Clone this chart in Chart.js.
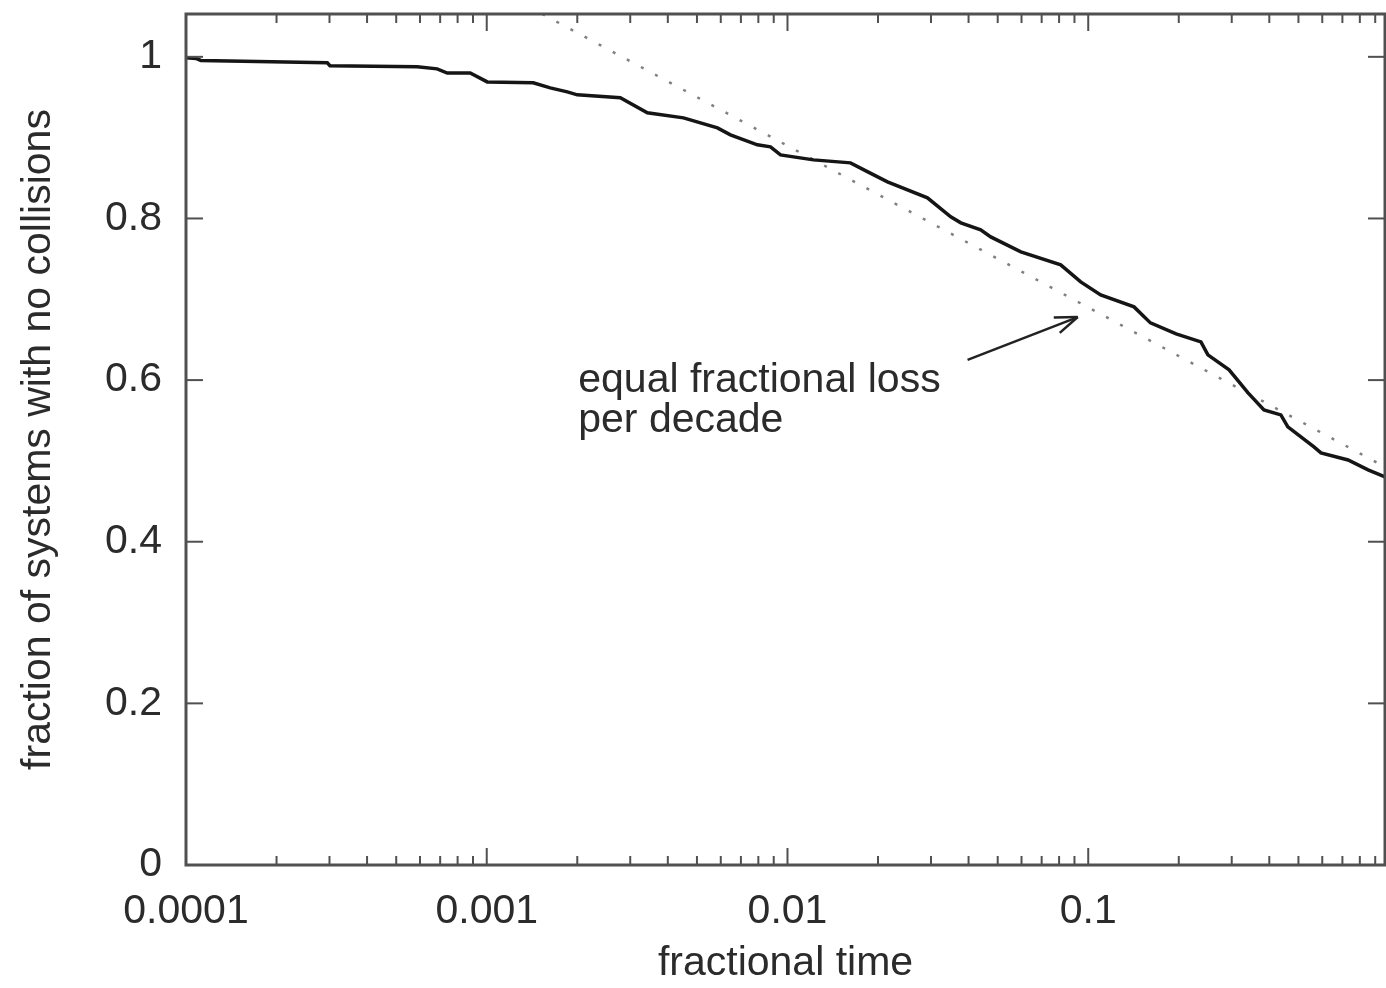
<!DOCTYPE html>
<html>
<head>
<meta charset="utf-8">
<script src="https://cdn.jsdelivr.net/npm/chart.js@4/dist/chart.umd.min.js"></script>
<style>
  html, body { margin: 0; padding: 0; background: #fff; }
  #wrap { width: 1386px; height: 988px; }
</style>
</head>
<body>
<div id="wrap"><canvas id="myChart" width="1386" height="988"></canvas></div>
<script>
// survival curve
const timeFraction = [1.0e-4, 1.08e-4, 1.12e-4, 2.95e-4, 3.01e-4, 5.87e-4, 6.84e-4, 7.39e-4, 8.81e-4, 1.004e-3,
  1.428e-3, 1.626e-3, 1.853e-3, 2.0e-3, 2.78e-3, 3.42e-3, 4.51e-3, 5.85e-3, 6.46e-3, 7.94e-3,
  8.78e-3, 9.48e-3, 0.0122, 0.0162, 0.0185, 0.0215, 0.0292, 0.0349, 0.0377, 0.0439,
  0.0474, 0.0597, 0.0810, 0.0944, 0.110, 0.142, 0.161, 0.196, 0.237, 0.250,
  0.294, 0.340, 0.384, 0.437, 0.461, 0.563, 0.594, 0.731, 0.852, 0.97];
const noCollision = [0.999, 0.998, 0.9955, 0.9926, 0.989, 0.9876, 0.9851, 0.980, 0.980, 0.969,
  0.9678, 0.9616, 0.9567, 0.953, 0.9493, 0.9307, 0.9245, 0.9121, 0.9035, 0.8911,
  0.8886, 0.8787, 0.8725, 0.8688, 0.8577, 0.8453, 0.8255, 0.802, 0.7946, 0.7859,
  0.7772, 0.7587, 0.7426, 0.7215, 0.7054, 0.6906, 0.6708, 0.6572, 0.6473, 0.6312,
  0.6126, 0.5842, 0.5631, 0.5569, 0.5421, 0.5173, 0.5099, 0.5012, 0.4889, 0.4802];

// dotted reference line (equal fractional loss per decade)
const refTime = [0.00153, 0.97];
const refFraction = [1.053, 0.4926];

const xTickLabels = ['0.0001', '0.001', '0.01', '0.1'];
const yTickLabels = ['0', '0.2', '0.4', '0.6', '0.8', '1'];

const noteLines = ['equal fractional loss', 'per decade'];

const FONT = '"Liberation Sans", Arial, sans-serif';

// gnuplot style frame with inward ticks + the arrow note
const framePlugin = {
  id: 'frame',
  afterDraw(chart) {
    const { ctx, chartArea: { left, right, top, bottom }, scales: { x, y } } = chart;
    ctx.save();
    ctx.strokeStyle = '#505050';
    ctx.lineWidth = 3;
    ctx.strokeRect(left, top, right - left, bottom - top);

    ctx.lineWidth = 2;
    const seg = (x1, y1, x2, y2) => { ctx.beginPath(); ctx.moveTo(x1, y1); ctx.lineTo(x2, y2); ctx.stroke(); };

    x.ticks.forEach(t => {
      const v = t.value;
      const e = Math.floor(Math.log10(v) + 1e-9);
      const m = v / Math.pow(10, e);
      if (Math.abs(m - Math.round(m)) > 1e-6) return;
      const len = Math.round(m) === 1 ? 17 : 9;
      const px = x.getPixelForValue(v);
      if (px <= left + 2 || px >= right - 2) return;
      seg(px, bottom, px, bottom - len);
      seg(px, top, px, top + len);
    });
    y.ticks.forEach(t => {
      const py = y.getPixelForValue(t.value);
      if (py >= bottom - 2 || py <= top + 2) return;
      seg(left, py, left + 17, py);
      seg(right, py, right - 17, py);
    });

    // note text
    ctx.fillStyle = '#2b2b2b';
    ctx.font = '41px ' + FONT;
    ctx.textBaseline = 'alphabetic';
    const tx = x.getPixelForValue(0.002015);
    ctx.fillText(noteLines[0], tx, y.getPixelForValue(0.585));
    ctx.fillText(noteLines[1], tx, y.getPixelForValue(0.536));

    // arrow
    const ax1 = x.getPixelForValue(0.0397), ay1 = y.getPixelForValue(0.625);
    const ax2 = x.getPixelForValue(0.0923), ay2 = y.getPixelForValue(0.678);
    ctx.strokeStyle = '#222';
    ctx.lineWidth = 2.5;
    seg(ax1, ay1, ax2, ay2);
    const ang = Math.atan2(ay2 - ay1, ax2 - ax1);
    const hl = 24;
    seg(ax2, ay2, ax2 - hl * Math.cos(ang - 0.35), ay2 - hl * Math.sin(ang - 0.35));
    seg(ax2, ay2, ax2 - hl * Math.cos(ang + 0.35), ay2 - hl * Math.sin(ang + 0.35));
    ctx.restore();
  }
};

const ctx = document.getElementById('myChart').getContext('2d');
new Chart(ctx, {
  type: 'scatter',
  data: {
    datasets: [
      {
        label: 'systems with no collisions',
        data: timeFraction.map((t, i) => ({ x: t, y: noCollision[i] })),
        showLine: true,
        borderColor: '#151515',
        borderWidth: 3.5,
        pointRadius: 0,
        tension: 0
      },
      {
        label: 'equal fractional loss per decade',
        data: refTime.map((t, i) => ({ x: t, y: refFraction[i] })),
        showLine: true,
        borderColor: '#808080',
        borderWidth: 2.5,
        borderDash: [3, 13],
        pointRadius: 0
      }
    ]
  },
  options: {
    responsive: false,
    animation: false,
    layout: { padding: { top: 14, right: 1, left: 0, bottom: 0 } },
    plugins: { legend: { display: false }, tooltip: { enabled: false } },
    scales: {
      x: {
        type: 'logarithmic',
        min: 1e-4,
        max: 0.97,
        grid: { display: false, drawTicks: false },
        border: { display: false },
        ticks: {
          autoSkip: false,
          maxRotation: 0,
          padding: 22,
          color: '#2b2b2b',
          font: { family: FONT, size: 41 },
          callback: (v) => {
            const e = Math.log10(v);
            if (Math.abs(e - Math.round(e)) > 1e-9) return '';
            const lbl = Number(v.toPrecision(1)).toString();
            return xTickLabels.includes(lbl) ? lbl : '';
          }
        },
        title: {
          display: true,
          text: 'fractional time',
          color: '#2b2b2b',
          font: { family: FONT, size: 41 },
          padding: { top: 0, bottom: 0 }
        },
        afterFit: (s) => { s.height = 123; s.paddingLeft = 0; s.paddingRight = 0; }
      },
      y: {
        type: 'linear',
        min: 0,
        max: 1.053,
        grid: { display: false, drawTicks: false },
        border: { display: false },
        ticks: {
          stepSize: 0.2,
          includeBounds: false,
          padding: 24,
          color: '#2b2b2b',
          font: { family: FONT, size: 41 },
          callback: (v) => {
            const lbl = String(Math.round(v * 10) / 10);
            return yTickLabels.includes(lbl) ? lbl : '';
          }
        },
        title: {
          display: true,
          text: 'fraction of systems with no collisions',
          color: '#2b2b2b',
          font: { family: FONT, size: 41 },
          padding: { top: 14, bottom: 0 }
        },
        afterFit: (s) => { s.width = 186; s.paddingTop = 0; s.paddingBottom = 0; }
      }
    }
  },
  plugins: [framePlugin]
});
</script>
</body>
</html>
